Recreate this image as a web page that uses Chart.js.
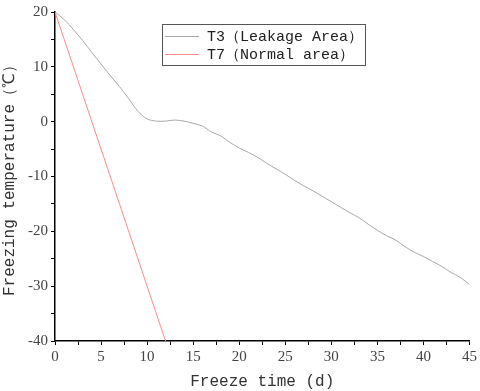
<!DOCTYPE html>
<html>
<head>
<meta charset="utf-8">
<script src="https://cdn.jsdelivr.net/npm/chart.js@4.4.0/dist/chart.umd.min.js"></script>
<style>
  html, body { margin: 0; padding: 0; background: #fff; }
  #wrap { width: 480px; height: 391px; }
</style>
</head>
<body>
<div id="wrap"><canvas id="c" width="480" height="391"></canvas></div>
<script>
// freeze time (days) and temperature readings
const t3Days = [0,1,2,3,4,5,6,7,8,9,10,11,12,13,14,15,16,17,18,19,20,21,22,23,24,25,26,27,28,29,30,31,32,33,34,35,36,37,38,39,40,41,42,43,44,45];
const t3Temp = [20,18.6,16.8,14.8,12.6,10.5,8.4,6.4,4.2,1.9,0.5,0.1,0.1,0.3,0.1,-0.3,-0.8,-1.9,-2.6,-3.8,-4.8,-5.6,-6.5,-7.6,-8.6,-9.6,-10.7,-11.7,-12.6,-13.6,-14.6,-15.6,-16.6,-17.5,-18.7,-19.8,-20.8,-21.6,-22.8,-23.8,-24.6,-25.5,-26.4,-27.5,-28.4,-29.7];
const t7Days = [0, 12];
const t7Temp = [20, -40];

const seriesLabels = ['T3（Leakage Area）', 'T7（Normal area）'];
const xTitle = 'Freeze time (d)';
const yTitle = 'Freezing temperature（℃）';

const SERIF = "'Liberation Serif', serif";
const MONO = "'Liberation Mono', monospace";

const pts = (xs, ys) => xs.map((x, i) => ({ x: x, y: ys[i] }));

// legend drawn as a boxed list inside the plot
const boxLegend = {
  id: 'boxLegend',
  afterDraw(chart) {
    const ctx = chart.ctx;
    const x0 = 162, y0 = 24, w = 203, h = 41;
    ctx.save();
    ctx.strokeStyle = '#555';
    ctx.lineWidth = 1;
    ctx.strokeRect(x0 + 0.5, y0 + 0.5, w, h);
    ctx.font = '15px ' + MONO;
    ctx.textBaseline = 'middle';
    chart.data.datasets.forEach((ds, i) => {
      const yy = y0 + 12 + i * 18;
      ctx.strokeStyle = ds.borderColor;
      ctx.beginPath();
      ctx.moveTo(x0 + 3, yy + 0.5);
      ctx.lineTo(x0 + 37, yy + 0.5);
      ctx.stroke();
      ctx.fillStyle = '#222';
      ctx.fillText(ds.label, x0 + 45, yy + 1);
    });
    ctx.restore();
  }
};

new Chart(document.getElementById('c'), {
  type: 'line',
  data: {
    datasets: [
      { label: seriesLabels[0], data: pts(t3Days, t3Temp), borderColor: '#a8a8a8', borderWidth: 1, pointRadius: 0, tension: 0.3 },
      { label: seriesLabels[1], data: pts(t7Days, t7Temp), borderColor: '#ff8a8a', borderWidth: 1, pointRadius: 0 }
    ]
  },
  options: {
    responsive: false,
    animation: false,
    layout: { padding: { left: 0, right: 10, top: 7, bottom: 0 } },
    plugins: { legend: { display: false }, tooltip: { enabled: false } },
    scales: {
      x: {
        type: 'linear', min: 0, max: 45,
        border: { color: '#000', width: 1.5 },
        grid: { drawOnChartArea: false, color: '#000', tickLength: 4 },
        ticks: { stepSize: 2.5, color: '#444', font: { family: SERIF, size: 15 }, padding: 3, maxRotation: 0,
          callback: v => (v % 5 === 0 ? String(v) : '') },
        title: { display: true, text: xTitle, color: '#333', font: { family: MONO, size: 16 }, padding: { top: 1, bottom: 0 } },
        afterFit: s => { s.height = 50; }
      },
      y: {
        min: -40, max: 20,
        border: { color: '#000', width: 1.5 },
        grid: { drawOnChartArea: false, color: '#000', tickLength: 4 },
        ticks: { stepSize: 5, color: '#444', font: { family: SERIF, size: 15 }, padding: 3,
          callback: v => (v % 10 === 0 ? String(v) : '') },
        title: { display: true, text: yTitle, color: '#333', font: { family: MONO, size: 16 }, padding: { top: 0, bottom: 4 } },
        afterFit: s => { s.width = 55; }
      }
    }
  },
  plugins: [boxLegend]
});
</script>
</body>
</html>
